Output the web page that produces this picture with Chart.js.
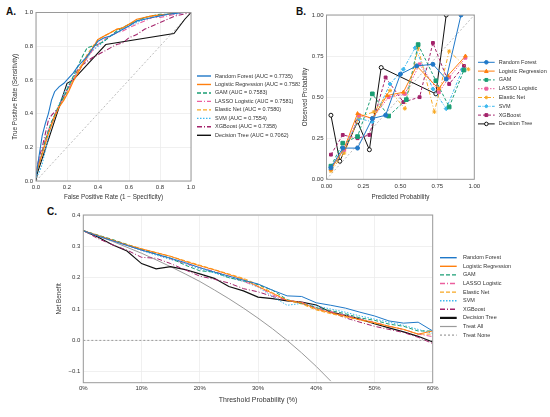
<!DOCTYPE html>
<html>
<head>
<meta charset="utf-8">
<script src="https://cdn.jsdelivr.net/npm/chart.js@4.4.1/dist/chart.umd.min.js"></script>
<style>
  body { margin: 0; background: #fff; width: 550px; height: 417px; position: relative; overflow: hidden; font-family: "Liberation Sans", Arial, sans-serif; }
  canvas { position: absolute; }
  .tag { position: absolute; font-weight: bold; font-size: 10px; color: #111; line-height: 10px; }
</style>
</head>
<body>
<div class="tag" style="left:6px;top:7px">A.</div>
<div class="tag" style="left:296px;top:7px">B.</div>
<div class="tag" style="left:47px;top:207px">C.</div>
<canvas id="roc" width="300" height="205" style="left:0;top:0"></canvas>
<canvas id="calib" width="270" height="205" style="left:280px;top:0"></canvas>
<canvas id="dca" width="550" height="217" style="left:0;top:200px"></canvas>
<script>
// model names
const models = ["Random Forest", "Logistic Regression", "GAM", "LASSO Logistic", "Elastic Net", "SVM", "XGBoost", "Decision Tree"];
const aucs = ["0.7735", "0.7583", "0.7583", "0.7581", "0.7580", "0.7554", "0.7358", "0.7062"];

// A. ROC curves (false positive rate grid, true positive rates)
const rocFpr = [0, 0.02, 0.04, 0.06, 0.08, 0.10, 0.12, 0.15, 0.18, 0.21, 0.24, 0.27, 0.30, 0.33, 0.36, 0.40, 0.44, 0.48, 0.52, 0.56, 0.60, 0.65, 0.70, 0.75, 0.80, 0.85, 0.90, 0.95, 1.0];
const tprRF    = [0.03, 0.15, 0.27, 0.34, 0.40, 0.48, 0.53, 0.56, 0.58, 0.61, 0.64, 0.68, 0.71, 0.74, 0.78, 0.83, 0.85, 0.86, 0.88, 0.90, 0.92, 0.95, 0.96, 0.97, 0.98, 0.99, 0.995, 1, 1];
const tprLR    = [0.05, 0.10, 0.16, 0.22, 0.28, 0.33, 0.38, 0.44, 0.48, 0.53, 0.59, 0.64, 0.69, 0.74, 0.78, 0.84, 0.86, 0.88, 0.90, 0.91, 0.93, 0.96, 0.97, 0.98, 0.985, 0.99, 1, 1, 1];
const tprGAM   = [0.04, 0.10, 0.17, 0.24, 0.30, 0.35, 0.39, 0.45, 0.50, 0.56, 0.62, 0.68, 0.74, 0.79, 0.80, 0.81, 0.83, 0.86, 0.89, 0.91, 0.93, 0.95, 0.97, 0.98, 0.99, 0.99, 1, 1, 1];
const tprLASSO = [0.06, 0.12, 0.18, 0.25, 0.30, 0.35, 0.39, 0.45, 0.50, 0.55, 0.60, 0.64, 0.69, 0.73, 0.77, 0.81, 0.84, 0.86, 0.88, 0.89, 0.91, 0.93, 0.95, 0.97, 0.97, 0.98, 0.99, 1, 1];
const tprEN    = [0.05, 0.11, 0.17, 0.23, 0.29, 0.34, 0.39, 0.45, 0.49, 0.54, 0.60, 0.65, 0.70, 0.75, 0.79, 0.84, 0.86, 0.88, 0.90, 0.91, 0.93, 0.95, 0.97, 0.98, 0.985, 0.99, 1, 1, 1];
const tprSVM   = [0.02, 0.05, 0.10, 0.18, 0.26, 0.33, 0.39, 0.46, 0.52, 0.57, 0.61, 0.65, 0.69, 0.73, 0.77, 0.80, 0.83, 0.86, 0.88, 0.90, 0.92, 0.94, 0.96, 0.97, 0.98, 0.99, 0.99, 1, 1];
const tprXGB   = [0.04, 0.14, 0.20, 0.28, 0.36, 0.39, 0.41, 0.44, 0.50, 0.56, 0.61, 0.66, 0.69, 0.71, 0.73, 0.75, 0.77, 0.79, 0.81, 0.82, 0.85, 0.87, 0.90, 0.92, 0.94, 0.96, 0.98, 0.99, 1];
const treeFpr  = [0, 0.01, 0.20, 0.24, 0.45, 0.89, 0.96, 1];
const treeTpr  = [0, 0.05, 0.58, 0.60, 0.81, 0.875, 0.96, 1];
const rocTicks = [0, 0.2, 0.4, 0.6, 0.8, 1.0];

// B. calibration (mean predicted, observed)
const calX = [
  [0.03, 0.11, 0.21, 0.31, 0.40, 0.50, 0.61, 0.72, 0.81, 0.91],
  [0.03, 0.12, 0.21, 0.31, 0.41, 0.52, 0.61, 0.76, 0.82, 0.94],
  [0.03, 0.11, 0.21, 0.31, 0.42, 0.54, 0.62, 0.74, 0.83, 0.93],
  [0.03, 0.12, 0.22, 0.31, 0.42, 0.53, 0.63, 0.76, 0.83, 0.94],
  [0.03, 0.12, 0.22, 0.32, 0.43, 0.53, 0.62, 0.73, 0.83, 0.96],
  [0.03, 0.11, 0.22, 0.31, 0.43, 0.52, 0.60, 0.72, 0.81, 0.92],
  [0.03, 0.11, 0.21, 0.29, 0.40, 0.52, 0.63, 0.72, 0.83, 0.93],
  [0.03, 0.09, 0.21, 0.29, 0.37, 0.74, 0.81]
];
const calY = [
  [0.07, 0.19, 0.19, 0.37, 0.39, 0.64, 0.69, 0.70, 0.61, 1.0],
  [0.06, 0.19, 0.40, 0.37, 0.51, 0.53, 0.69, 0.55, 0.63, 0.75],
  [0.08, 0.22, 0.26, 0.52, 0.385, 0.485, 0.82, 0.60, 0.44, 0.665],
  [0.07, 0.18, 0.39, 0.37, 0.50, 0.52, 0.70, 0.53, 0.62, 0.74],
  [0.05, 0.16, 0.38, 0.41, 0.54, 0.43, 0.80, 0.41, 0.78, 0.67],
  [0.06, 0.17, 0.37, 0.35, 0.58, 0.67, 0.80, 0.55, 0.43, 0.67],
  [0.15, 0.27, 0.25, 0.27, 0.62, 0.47, 0.50, 0.83, 0.58, 0.69],
  [0.39, 0.11, 0.35, 0.18, 0.68, 0.52, 1.0]
];
const calTicks = [0, 0.25, 0.5, 0.75, 1.0];

// C. decision curves (threshold %, net benefit)
const thresholds = [0, 2.5, 5, 7.5, 10, 12.5, 15, 17.5, 20, 22.5, 25, 27.5, 30, 32.5, 35, 37.5, 40, 42.5, 45, 47.5, 50, 52.5, 55, 57.5, 60];
const nbModels = [
  [0.350, 0.333, 0.318, 0.303, 0.288, 0.275, 0.262, 0.248, 0.232, 0.218, 0.205, 0.192, 0.180, 0.160, 0.142, 0.140, 0.120, 0.112, 0.103, 0.090, 0.078, 0.062, 0.055, 0.058, 0.030],
  [0.350, 0.335, 0.320, 0.305, 0.292, 0.280, 0.268, 0.252, 0.238, 0.225, 0.210, 0.195, 0.172, 0.150, 0.128, 0.120, 0.100, 0.088, 0.077, 0.066, 0.057, 0.045, 0.035, 0.020, 0.030],
  [0.350, 0.336, 0.322, 0.306, 0.290, 0.276, 0.262, 0.240, 0.222, 0.218, 0.200, 0.190, 0.178, 0.160, 0.130, 0.118, 0.104, 0.095, 0.085, 0.072, 0.064, 0.052, 0.045, 0.030, 0.030],
  [0.350, 0.333, 0.318, 0.303, 0.288, 0.275, 0.260, 0.245, 0.232, 0.220, 0.205, 0.188, 0.172, 0.145, 0.128, 0.122, 0.102, 0.092, 0.080, 0.068, 0.058, 0.045, 0.035, 0.020, 0.012],
  [0.350, 0.335, 0.320, 0.306, 0.292, 0.280, 0.268, 0.254, 0.240, 0.226, 0.212, 0.198, 0.178, 0.152, 0.128, 0.116, 0.097, 0.085, 0.075, 0.065, 0.055, 0.045, 0.035, 0.020, 0.020],
  [0.350, 0.334, 0.318, 0.302, 0.287, 0.272, 0.258, 0.245, 0.228, 0.215, 0.200, 0.188, 0.170, 0.140, 0.112, 0.118, 0.110, 0.100, 0.090, 0.078, 0.068, 0.058, 0.048, 0.035, 0.022],
  [0.350, 0.325, 0.305, 0.288, 0.265, 0.262, 0.245, 0.225, 0.205, 0.195, 0.183, 0.165, 0.155, 0.140, 0.128, 0.118, 0.105, 0.090, 0.072, 0.058, 0.045, 0.035, 0.025, 0.010, -0.010],
  [0.350, 0.330, 0.305, 0.285, 0.245, 0.228, 0.235, 0.226, 0.212, 0.198, 0.172, 0.158, 0.138, 0.133, 0.126, 0.122, 0.113, 0.090, 0.080, 0.068, 0.053, 0.040, 0.027, 0.013, -0.005]
];
const treatAllX = [0, 2.5, 5, 7.5, 10, 12.5, 15, 17.5, 20, 22.5, 25, 27.5, 30, 32.5, 35, 37.5, 40, 42.5];
const treatAllY = [0.350, 0.333, 0.316, 0.297, 0.278, 0.257, 0.235, 0.212, 0.188, 0.161, 0.133, 0.103, 0.071, 0.037, 0.000, -0.040, -0.083, -0.130];
const treatNoneX = [0, 60];
const treatNoneY = [0, 0];
const nbXTicks = [0, 10, 20, 30, 40, 50, 60];
const nbYTicks = [-0.1, 0, 0.1, 0.2, 0.3, 0.4];

// styles
const colors = ["#1f78c8", "#ff7f0e", "#1a9e74", "#ec5f9e", "#f7a823", "#3db8ee", "#a3226a", "#111111"];
const dashA = [[], [], [4, 2], [5, 2, 1, 2], [4, 2], [1.5, 1.5], [5, 2, 1, 2], []];
const dashB = [[], [], [3, 2], [1.5, 1.5], [4, 2, 1, 2], [3, 1.5, 1, 1.5], [3, 2], []];
const markers = ["circle", "triangle", "rect", "rect", "star", "rectRot", "rect", "circle"];
const FONT = "'Liberation Sans', Arial, sans-serif";

function pts(xs, ys) {
  return xs.map((x, i) => ({ x: x, y: ys[i] }));
}

function drawMarker(ctx, style, x, y, r, fill, stroke) {
  ctx.save();
  ctx.setLineDash([]);
  ctx.fillStyle = fill;
  ctx.strokeStyle = stroke;
  ctx.lineWidth = 1;
  ctx.beginPath();
  if (style === "circle") {
    ctx.arc(x, y, r, 0, Math.PI * 2);
  } else if (style === "triangle") {
    ctx.moveTo(x, y - r); ctx.lineTo(x + r, y + r * 0.8); ctx.lineTo(x - r, y + r * 0.8); ctx.closePath();
  } else if (style === "rect") {
    ctx.rect(x - r * 0.8, y - r * 0.8, r * 1.6, r * 1.6);
  } else if (style === "rectRot") {
    ctx.moveTo(x, y - r); ctx.lineTo(x + r, y); ctx.lineTo(x, y + r); ctx.lineTo(x - r, y); ctx.closePath();
  } else {
    ctx.moveTo(x - r, y); ctx.lineTo(x + r, y); ctx.moveTo(x, y - r); ctx.lineTo(x, y + r);
    ctx.moveTo(x - r * 0.7, y - r * 0.7); ctx.lineTo(x + r * 0.7, y + r * 0.7);
    ctx.moveTo(x - r * 0.7, y + r * 0.7); ctx.lineTo(x + r * 0.7, y - r * 0.7);
  }
  if (style !== "star") ctx.fill();
  ctx.stroke();
  ctx.restore();
}

// grey frame round the plot area
const frame = {
  id: "frame",
  afterDatasetsDraw(chart) {
    const a = chart.chartArea, c = chart.ctx;
    c.save();
    c.strokeStyle = "#9a9a9a";
    c.lineWidth = 1;
    c.strokeRect(a.left, a.top, a.right - a.left, a.bottom - a.top);
    c.restore();
  }
};

// legend with line samples (and markers in B)
const lineLegend = {
  id: "lineLegend",
  afterDraw(chart, args, o) {
    const ctx = chart.ctx;
    let y = o.y;
    chart.data.datasets.forEach(ds => {
      if (!ds.label) return;
      ctx.save();
      ctx.strokeStyle = ds.borderColor;
      ctx.lineWidth = ds.legendWidth || ds.borderWidth;
      ctx.setLineDash(ds.borderDash || []);
      ctx.beginPath();
      ctx.moveTo(o.x, y);
      ctx.lineTo(o.x + o.len, y);
      ctx.stroke();
      if (o.markers && ds.pointStyle) {
        drawMarker(ctx, ds.pointStyle, o.x + o.len / 2, y, 1.8, ds.pointBackgroundColor, ds.borderColor);
      }
      ctx.setLineDash([]);
      ctx.fillStyle = "#333";
      ctx.font = "5.5px " + FONT;
      ctx.textBaseline = "middle";
      ctx.fillText(ds.label, o.x + o.len + o.gap, y);
      ctx.restore();
      y += o.step;
    });
  }
};

function scale(o) {
  return {
    type: "linear",
    min: o.min,
    max: o.max,
    afterBuildTicks: s => { s.ticks = o.ticks.map(v => ({ value: v })); },
    afterFit: s => { if (o.w !== undefined) s.width = o.w; if (o.h !== undefined) s.height = o.h; },
    grid: { color: "#ececec", lineWidth: 0.8, drawTicks: false },
    border: { display: false },
    ticks: { padding: o.tickPad, color: "#333", font: { family: FONT, size: o.tickSize || 6 }, callback: o.fmt, maxRotation: 0 },
    title: { display: true, text: o.title, color: "#333", font: { family: FONT, size: o.titleSize || 6.3 }, padding: o.titlePad }
  };
}

function baseOptions(extra) {
  return Object.assign({
    responsive: false,
    animation: false,
    events: [],
    elements: { line: { tension: 0 } },
  }, extra);
}

// ---- A. ROC ----
const rocSets = [tprRF, tprLR, tprGAM, tprLASSO, tprEN, tprSVM, tprXGB];
const rocData = rocSets.map((t, i) => ({
  label: models[i] + " (AUC = " + aucs[i] + ")",
  data: pts(rocFpr, t),
  borderColor: colors[i], borderWidth: 1.1, borderDash: dashA[i], pointRadius: 0, legendWidth: 1.4
}));
rocData.push({
  label: models[7] + " (AUC = " + aucs[7] + ")",
  data: pts(treeFpr, treeTpr),
  borderColor: colors[7], borderWidth: 1.1, pointRadius: 0, legendWidth: 1.4
});
rocData.push({ data: pts([0, 1], [0, 1]), borderColor: "#aaaaaa", borderWidth: 0.8, borderDash: [2, 2], pointRadius: 0 });

new Chart(document.getElementById("roc"), {
  type: "line",
  data: { datasets: rocData },
  options: baseOptions({
    layout: { padding: { left: 0, top: 12.5, right: 109, bottom: 0 } },
    scales: {
      x: scale({ min: 0, max: 1, ticks: rocTicks, fmt: v => v.toFixed(1), title: "False Positive Rate (1 \u2212 Specificity)", h: 24, tickPad: 3, titlePad: { top: 2, bottom: 4 } }),
      y: scale({ min: 0, max: 1, ticks: rocTicks, fmt: v => v.toFixed(1), title: "True Positive Rate (Sensitivity)", w: 36, tickPad: 3, titlePad: { top: 11, bottom: 2 } })
    },
    plugins: {
      legend: { display: false },
      tooltip: { enabled: false },
      lineLegend: { x: 197, y: 76, step: 8.47, len: 14, gap: 4, markers: false }
    }
  }),
  plugins: [frame, lineLegend]
});

// ---- B. Calibration ----
const calData = models.map((m, i) => ({
  label: m,
  data: pts(calX[i], calY[i]),
  borderColor: colors[i], borderWidth: 1, borderDash: dashB[i],
  pointStyle: markers[i], pointRadius: i === 2 ? 2.6 : 2, pointBorderWidth: 1,
  pointBackgroundColor: i === 7 ? "#ffffff" : colors[i], pointBorderColor: colors[i]
}));
calData.push({ data: pts([0, 1], [0, 1]), borderColor: "#aaaaaa", borderWidth: 0.8, borderDash: [2, 2], pointRadius: 0 });

new Chart(document.getElementById("calib"), {
  type: "line",
  data: { datasets: calData },
  options: baseOptions({
    layout: { padding: { left: 0, top: 15, right: 75.7, bottom: 0 } },
    scales: {
      x: scale({ min: 0, max: 1, ticks: calTicks, fmt: v => v.toFixed(2), title: "Predicted Probability", h: 25.7, tickPad: 3, titlePad: { top: 2, bottom: 4 } }),
      y: scale({ min: 0, max: 1, ticks: calTicks, fmt: v => v.toFixed(2), title: "Observed Probability", w: 46.5, tickPad: 3, titlePad: { top: 21.5, bottom: 2 } })
    },
    plugins: {
      legend: { display: false },
      tooltip: { enabled: false },
      lineLegend: { x: 198, y: 62.3, step: 8.8, len: 16.7, gap: 4, markers: true }
    }
  }),
  plugins: [frame, lineLegend]
});

// ---- C. Decision curves ----
const dcaData = nbModels.map((nb, i) => ({
  label: models[i],
  data: pts(thresholds, nb),
  borderColor: colors[i], borderWidth: i === 7 ? 1.2 : 1, borderDash: dashA[i], pointRadius: 0,
  legendWidth: i === 7 ? 2.2 : 1.4
}));
dcaData.push({ label: "Treat All", data: pts(treatAllX, treatAllY), borderColor: "#9a9a9a", borderWidth: 1, pointRadius: 0, legendWidth: 1.2 });
dcaData.push({ label: "Treat None", data: pts(treatNoneX, treatNoneY), borderColor: "#9a9a9a", borderWidth: 1, borderDash: [2, 2], pointRadius: 0, legendWidth: 1.2 });

new Chart(document.getElementById("dca"), {
  type: "line",
  data: { datasets: dcaData },
  options: baseOptions({
    layout: { padding: { left: 0, top: 15, right: 117.3, bottom: 0 } },
    scales: {
      x: scale({ min: 0, max: 60, ticks: nbXTicks, fmt: v => v + "%", title: "Threshold Probability (%)", titleSize: 7, h: 34.3, tickPad: 2, titlePad: { top: 2, bottom: 12.8 } }),
      y: scale({ min: -0.135, max: 0.4, ticks: nbYTicks, fmt: v => (v < 0 ? "\u2212" + Math.abs(v).toFixed(1) : v.toFixed(1)), title: "Net Benefit", w: 83.3, tickPad: 3, titlePad: { top: 55, bottom: 2 } })
    },
    plugins: {
      legend: { display: false },
      tooltip: { enabled: false },
      lineLegend: { x: 440, y: 57.7, step: 8.6, len: 16.7, gap: 6.3, markers: false }
    }
  }),
  plugins: [frame, lineLegend]
});
</script>
</body>
</html>
